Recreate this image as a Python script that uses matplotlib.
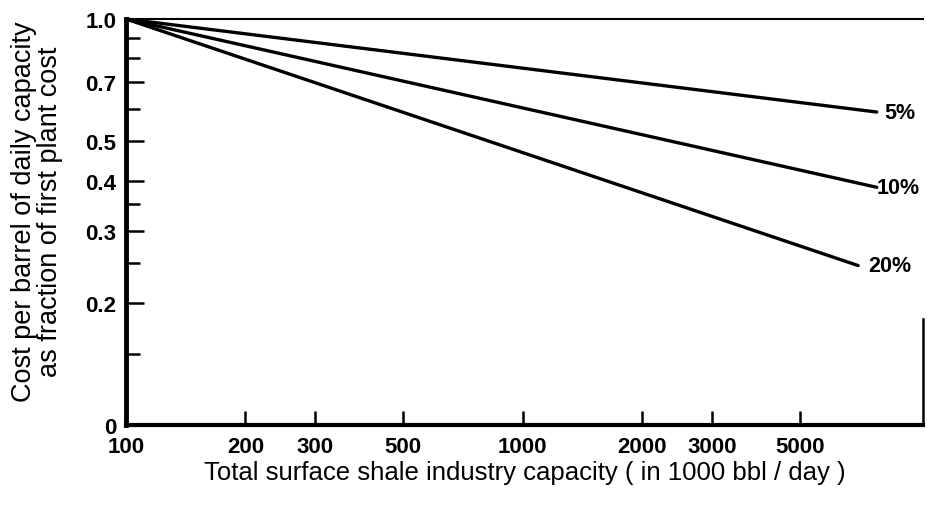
import matplotlib
matplotlib.use("Agg")
import matplotlib.pyplot as plt
from matplotlib.ticker import FixedLocator, NullFormatter

plt.rcParams['font.family'] = ['Liberation Sans', 'DejaVu Sans']

# Data
series_labels = ['5%', '10%', '20%']
start_capacity = 100
start_fraction = 1.0
end_capacity = [7800, 7800, 7000]
end_fraction = [0.59, 0.385, 0.247]

x_ticks = [100, 200, 300, 500, 1000, 2000, 3000, 5000]
x_tick_labels = ['100', '200', '300', '500', '1000', '2000', '3000', '5000']
y_major = [0.1, 0.2, 0.3, 0.4, 0.5, 0.7, 1.0]
y_major_labels = ['0', '0.2', '0.3', '0.4', '0.5', '0.7', '1.0']
y_minor = [0.15, 0.25, 0.35, 0.6, 0.8, 0.9]

fig = plt.figure(figsize=(9.28, 5.06), dpi=100)
ax = fig.add_axes([126/928, 1-426/506, (923-126)/928, (426-20)/506])
ax.set_xscale('log')
ax.set_yscale('log')
ax.set_xlim(100, 10200)
ax.set_ylim(0.1, 1.0)

offsets = [1.045, 1.0, 1.06]
for xe, ye, lab, off in zip(end_capacity, end_fraction, series_labels, offsets):
    ax.plot([start_capacity, xe], [start_fraction, ye], color='black', lw=2.4,
            solid_capstyle='round', clip_on=False)
    ax.text(xe * off, ye, lab, ha='left', va='center', fontsize=15.5,
            fontweight='bold')

# Spines
ax.spines['left'].set_linewidth(3.5)
ax.spines['bottom'].set_linewidth(3)
ax.spines['top'].set_linewidth(1.5)
ax.spines['right'].set_visible(False)
ax.plot([1, 1], [0, 0.26], transform=ax.transAxes, color='black', lw=1.8,
        clip_on=False)

# Ticks
ax.xaxis.set_major_locator(FixedLocator(x_ticks))
ax.set_xticklabels(x_tick_labels)
ax.xaxis.set_minor_locator(FixedLocator([]))
ax.xaxis.set_minor_formatter(NullFormatter())
ax.yaxis.set_major_locator(FixedLocator(y_major))
ax.set_yticklabels(y_major_labels)
ax.yaxis.set_minor_locator(FixedLocator(y_minor))
ax.yaxis.set_minor_formatter(NullFormatter())

ax.tick_params(axis='x', which='major', direction='in', length=10, width=1.8,
               labelsize=16, pad=8, top=False)
ax.tick_params(axis='y', which='major', direction='in', length=13, width=1.8,
               labelsize=16, pad=7, right=False)
ax.tick_params(axis='y', which='minor', direction='in', length=10, width=1.8,
               right=False)
for lbl in ax.get_xticklabels() + ax.get_yticklabels():
    lbl.set_fontweight('bold')

ax.set_xlabel('Total surface shale industry capacity ( in 1000 bbl / day )',
              fontsize=18.5, labelpad=2)
ax.set_ylabel('Cost per barrel of daily capacity\nas fraction of first plant cost',
              fontsize=19.5, linespacing=1.0)
ax.yaxis.set_label_coords((63 - 126) / 797, (426 - 212) / 406)

fig.savefig('out.png', dpi=100)
